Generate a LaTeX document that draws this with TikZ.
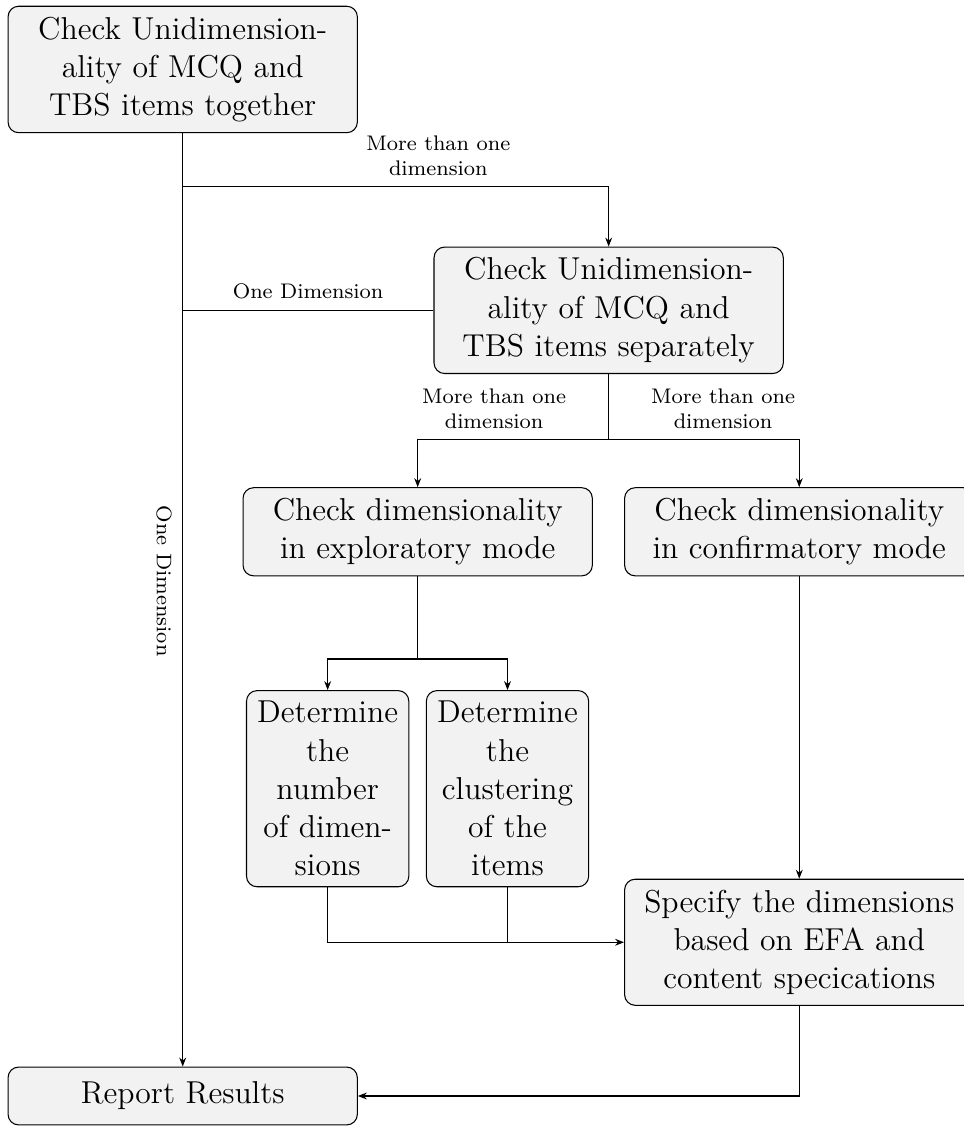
\documentclass[12pt,tikz,border=0pt]{standalone}
\usepackage{tikz}
\usetikzlibrary{arrows.meta, positioning, calc}
\tikzset{
    stepnode/.style={rectangle, rounded corners=4pt, draw=black, fill=gray!10, text width=4.37cm, align=center},
    narrownode/.style={stepnode, text width=1.88cm},
    arrow/.style={-{Stealth[length=3.4pt, width=2.6pt]}},
    lbl/.style={font=\scriptsize, align=center},
}

\begin{document}
\begin{tikzpicture}

\useasboundingbox (0,0) rectangle (12.836,-15.007);

\node[stepnode] (joint) at (2.433,-0.925) {Check Unidimension-\\ality of MCQ and\\TBS items together};
\node[stepnode] (separate) at (8.105,-4.132) {Check Unidimension-\\ality of MCQ and\\TBS items separately};
\node[stepnode] (explore) at (5.562,-7.081) {Check dimensionality\\in exploratory mode};
\node[stepnode] (confirm) at (10.643,-7.081) {Check dimensionality\\in confirmatory mode};
\node[narrownode] (numdim) at (4.363,-10.502) {Determine\\the\\number\\of dimen-\\sions};
\node[narrownode] (cluster) at (6.758,-10.502) {Determine\\the\\clustering\\of the\\items};
\node[stepnode] (specify) at (10.643,-12.547) {Specify the dimensions\\based on EFA and\\content specications};
\node[stepnode, minimum height=0.77cm] (report) at (2.433,-14.594) {Report Results};

\coordinate (fork1) at ($(joint.south)+(0,-0.71)$);
\coordinate (fork2) at ($(separate.south)+(0,-0.875)$);
\coordinate (fork3) at ($(explore.south)+(0,-1.1)$);

% first check
\draw[arrow] (joint.south) -- node[pos=0.48, sloped, below, lbl] {One Dimension} (report.north);
\draw[arrow] (fork1) -| node[pos=0.3, above, lbl] {More than one\\dimension} (separate.north);
\draw (separate.west) -- node[above, lbl] {One Dimension} (separate.west -| joint.south);

% second check
\draw (separate.south) -- (fork2);
\draw[arrow] (fork2) -| node[pos=0.3, above, lbl] {More than one\\dimension} (explore.north);
\draw[arrow] (fork2) -| node[pos=0.3, above, lbl] {More than one\\dimension} (confirm.north);

% exploratory
\draw (explore.south) -- (fork3);
\draw[arrow] (fork3) -| (numdim.north);
\draw[arrow] (fork3) -| (cluster.north);
\draw[arrow] (numdim.south) |- (specify.west);
\draw (cluster.south) -- (cluster.south |- specify.west);

% confirmatory
\draw[arrow] (confirm.south) -- (specify.north);
\draw[arrow] (specify.south) |- (report.east);

\end{tikzpicture}
\end{document}
